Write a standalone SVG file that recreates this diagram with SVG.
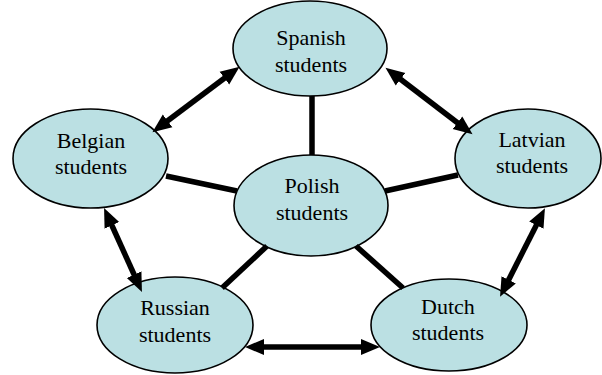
<svg xmlns="http://www.w3.org/2000/svg" width="602" height="375" viewBox="0 0 602 375">
<style>
.node ellipse{fill:#BBE0E3;stroke:#000;stroke-width:1.6}
.node text{font-family:'Liberation Serif','Times New Roman',Times,serif;font-size:22px;fill:#000;text-anchor:middle}
.edge{stroke:#000;stroke-width:5.5;fill:none}
.arrow{marker-start:url(#ah);marker-end:url(#ah)}
</style>
<defs>
<marker id="ah" markerUnits="userSpaceOnUse" markerWidth="20" markerHeight="18" viewBox="0 0 20 18" refX="7" refY="9" orient="auto-start-reverse">
<path d="M0,1 L19,9 L0,17 z" fill="#000"/>
</marker>
</defs>
<g id="spanish" class="node"><ellipse cx="310" cy="48.5" rx="77" ry="47.5"/><text x="311" y="45">Spanish</text><text x="311" y="72">students</text></g>
<g id="belgian" class="node"><ellipse cx="90.5" cy="158.5" rx="77.5" ry="49.5"/><text x="91" y="148">Belgian</text><text x="91" y="174">students</text></g>
<g id="latvian" class="node"><ellipse cx="528" cy="158.5" rx="73" ry="49.5"/><text x="532" y="147">Latvian</text><text x="532" y="173">students</text></g>
<g id="polish" class="node"><ellipse cx="311" cy="205.5" rx="77" ry="50.5"/><text x="312" y="193">Polish</text><text x="312" y="220">students</text></g>
<g id="russian" class="node"><ellipse cx="175" cy="325" rx="78" ry="48"/><text x="175" y="315">Russian</text><text x="175" y="342">students</text></g>
<g id="dutch" class="node"><ellipse cx="449" cy="325" rx="78" ry="46"/><text x="448" y="314">Dutch</text><text x="448" y="340">students</text></g>
<g id="connectors">
<line class="edge" x1="312" y1="96" x2="312" y2="155"/>
<line class="edge" x1="166" y1="176" x2="237" y2="191"/>
<line class="edge" x1="385" y1="191" x2="458" y2="175"/>
<line class="edge" x1="267" y1="246" x2="222" y2="288"/>
<line class="edge" x1="356" y1="246" x2="403" y2="288"/>
<line class="edge arrow" x1="230" y1="74" x2="162" y2="125"/>
<line class="edge arrow" x1="395" y1="75" x2="463" y2="127"/>
<line class="edge arrow" x1="109" y1="219" x2="137" y2="281"/>
<line class="edge arrow" x1="539.5" y1="219" x2="505.5" y2="286"/>
<line class="edge arrow" x1="257" y1="347" x2="368" y2="347"/>
</g>
</svg>
